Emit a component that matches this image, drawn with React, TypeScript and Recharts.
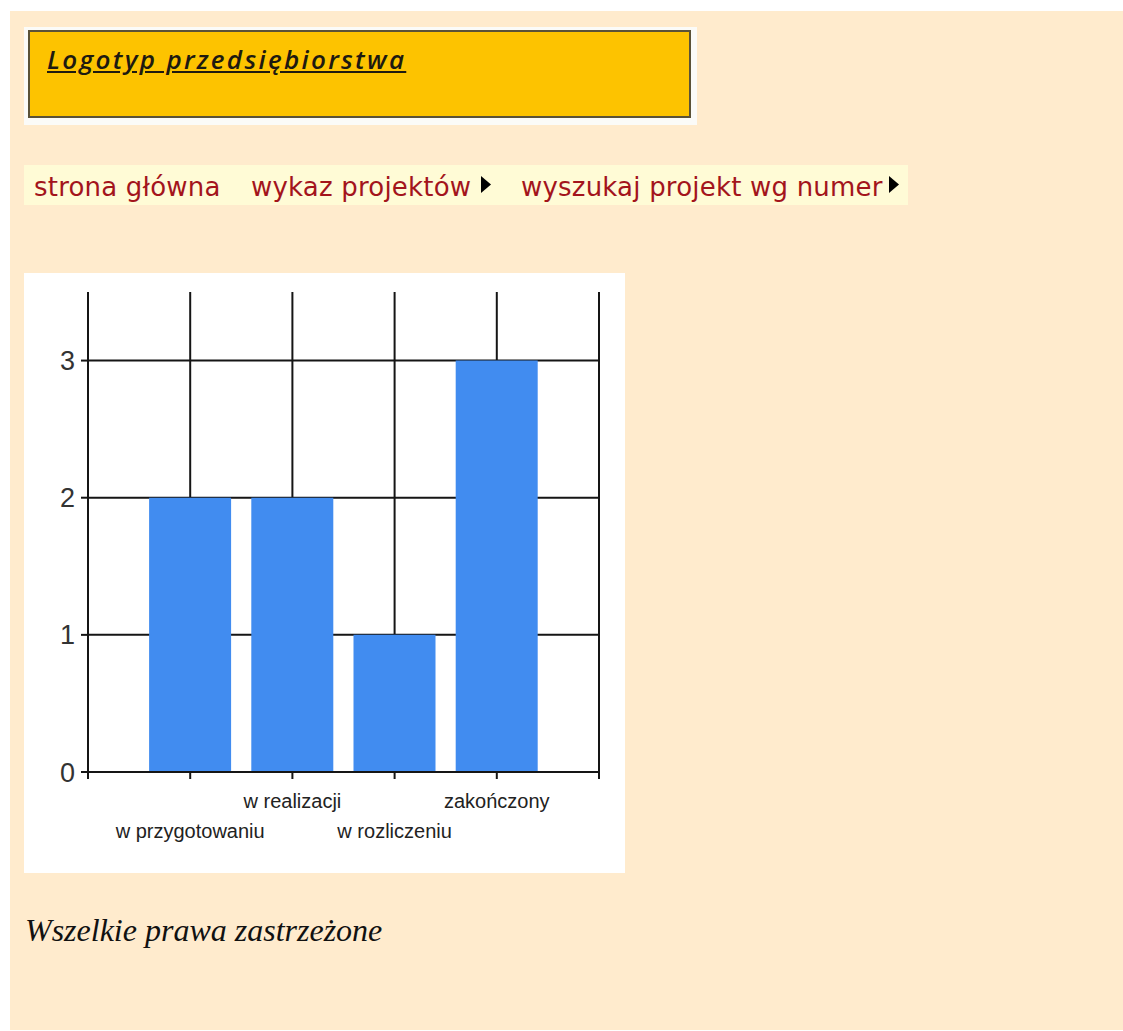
import React from 'react';
import { BarChart, Bar, XAxis, YAxis, CartesianGrid } from 'recharts';

const categories = ['w przygotowaniu', 'w realizacji', 'w rozliczeniu', 'zakończony'];
const counts = [2, 2, 1, 3];
const yTicks = [0, 1, 2, 3];
const xTicks = [0, 1, 2, 3, 4, 5];
const navItems = ['strona główna', 'wykaz projektów', 'wyszukaj projekt wg numer'];

const data = categories.map((name, i) => ({ pos: i + 1, name, count: counts[i] }));

const LINE = '#151515';

function CategoryTick(props: any) {
  const { x, y, payload } = props;
  const i = payload.value - 1;
  if (i < 0 || i >= categories.length) return <g />;
  // labels alternate between two rows, like the original
  const dy = i % 2 === 1 ? 27 : 57;
  return (
    <text
      x={x}
      y={y + dy}
      textAnchor="middle"
      fontSize={20}
      fill="#222"
      fontFamily="'Liberation Sans', Arial, sans-serif"
    >
      {categories[i]}
    </text>
  );
}

function Arrow({ left }: { left: number }) {
  return (
    <svg style={{ position: 'absolute', left, top: 176 }} width={11} height={17}>
      <polygon points="0,0 10,8.5 0,17" fill="#000" />
    </svg>
  );
}

export default function App() {
  return (
    <div style={{ position: 'absolute', left: 0, top: 0, width: 1123, height: 1031, background: '#fff' }}>
      <div style={{ position: 'absolute', left: 10, top: 11, width: 1113, height: 1019, background: '#ffebcd' }} />

      {/* logo */}
      <div style={{ position: 'absolute', left: 24, top: 27, width: 673, height: 98, background: '#fbfbf8' }} />
      <div
        style={{
          position: 'absolute',
          left: 28,
          top: 30,
          width: 659,
          height: 84,
          background: '#fdc300',
          border: '2px solid #5a5238',
        }}
      />
      <div
        style={{
          position: 'absolute',
          left: 47,
          top: 44,
          fontFamily: "'Open Sans', sans-serif",
          fontStyle: 'italic',
          fontWeight: 600,
          fontSize: 26,
          lineHeight: '30px',
          letterSpacing: 2.3,
          color: '#1e1a10',
          textDecoration: 'underline',
          whiteSpace: 'nowrap',
        }}
      >
        Logotyp przedsiębiorstwa
      </div>

      {/* navigation */}
      <div style={{ position: 'absolute', left: 24, top: 165, width: 884, height: 40, background: '#fffbd6' }} />
      {navItems.map((t, i) => (
        <div
          key={t}
          style={{
            position: 'absolute',
            left: [34, 251, 521][i],
            top: 174,
            fontFamily: "'DejaVu Sans', Verdana, sans-serif",
            fontSize: 26,
            lineHeight: '26px',
            letterSpacing: 0.2,
            color: '#a3141c',
            whiteSpace: 'nowrap',
          }}
        >
          {t}
        </div>
      ))}
      <Arrow left={481} />
      <Arrow left={889} />

      {/* chart */}
      <div style={{ position: 'absolute', left: 24, top: 273, width: 601, height: 600, background: '#fff' }}>
        <BarChart width={601} height={600} data={data} margin={{ top: 19, right: 26, bottom: 21, left: 4 }}>
          <CartesianGrid stroke={LINE} strokeWidth={2} horizontalValues={yTicks} verticalValues={xTicks} />
          <XAxis
            dataKey="pos"
            type="number"
            domain={[0, 5]}
            ticks={xTicks}
            interval={0}
            height={80}
            tickSize={7}
            tickMargin={2}
            axisLine={{ stroke: LINE, strokeWidth: 2 }}
            tickLine={{ stroke: LINE, strokeWidth: 2 }}
            tick={<CategoryTick />}
          />
          <YAxis
            domain={[0, 3.5]}
            ticks={yTicks}
            width={60}
            tickSize={7}
            tickMargin={6}
            axisLine={{ stroke: LINE, strokeWidth: 2 }}
            tickLine={{ stroke: LINE, strokeWidth: 2 }}
            tick={{ fontSize: 27, fill: '#333', fontFamily: "'Liberation Sans', Arial, sans-serif" }}
          />
          <Bar dataKey="count" fill="#418cf0" barSize={82} isAnimationActive={false} />
        </BarChart>
      </div>

      {/* footer */}
      <div
        style={{
          position: 'absolute',
          left: 25,
          top: 913,
          fontFamily: "'Liberation Serif', 'Times New Roman', serif",
          fontStyle: 'italic',
          fontSize: 32,
          lineHeight: '34px',
          color: '#111',
          whiteSpace: 'nowrap',
        }}
      >
        Wszelkie prawa zastrzeżone
      </div>
    </div>
  );
}
